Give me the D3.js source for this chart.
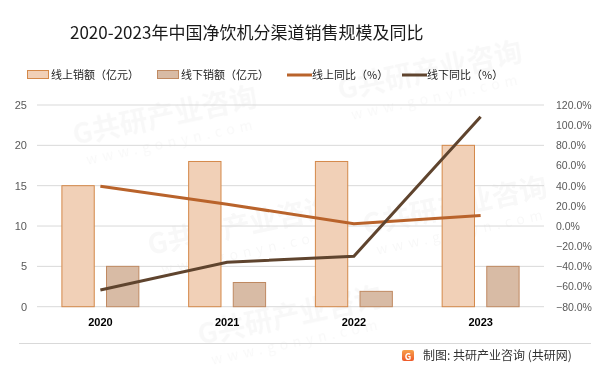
<!DOCTYPE html>
<html lang="zh">
<head>
<meta charset="UTF-8">
<title>净饮机分渠道销售规模</title>
<script src="https://d3js.org/d3.v7.min.js"></script>
<style>
    body { margin: 0; background: #fff; overflow: hidden; }
    svg { display: block; font-family: "Noto Sans CJK SC", "Noto Sans", sans-serif; }
</style>
</head>
<body>
<script>
    // 数据
    const years = ["2020", "2021", "2022", "2023"];
    const onlineSales = [15, 18, 18, 20];      // 线上销额（亿元）
    const offlineSales = [5, 3, 1.9, 5];       // 线下销额（亿元）
    const onlineYoY = [39.5, 21.5, 2.3, 10.5]; // 线上同比（%）
    const offlineYoY = [-63.4, -35.9, -29.9, 108.4]; // 线下同比（%）
    const leftTicks = [0, 5, 10, 15, 20, 25];
    const rightTicks = [-80, -60, -40, -20, 0, 20, 40, 60, 80, 100, 120];

    const width = 599, height = 373;
    const colors = {
        onlineFill: "#f1d0b7", onlineStroke: "#d4894a",
        offlineFill: "#d8bba5", offlineStroke: "#c08a62",
        onlineLine: "#b9632b", offlineLine: "#5f442e"
    };

    const svg = d3.select("body").append("svg")
        .attr("width", width)
        .attr("height", height);

    // 水印（放在画布内部，很淡）
    const wm = svg.append("g").attr("fill", "#000").attr("opacity", 0.03);
    const wmPos = [[75, 145], [340, 100], [150, 255], [365, 235], [200, 345]];
    wmPos.forEach(([x, y]) => {
        const g = wm.append("g").attr("transform", `translate(${x},${y}) rotate(-12)`);
        g.append("text").attr("font-size", 28).attr("font-weight", "bold").text("G共研产业咨询");
        g.append("text").attr("y", 22).attr("x", 8).attr("font-size", 14).attr("letter-spacing", 5).text("www.gonyn.com");
    });

    // 比例尺
    const x = d3.scaleBand().domain(years).range([37, 544]);
    const sub = d3.scaleBand().domain(["online", "offline"]).range([0, x.bandwidth()])
        .paddingInner(0.275).paddingOuter(0.558);
    const yL = d3.scaleLinear().domain([0, 25]).range([306.7, 105]);
    const yR = d3.scaleLinear().domain([-80, 120]).range([306.7, 105]);

    // 网格线
    svg.append("g").selectAll("line")
        .data(leftTicks)
        .join("line")
        .attr("x1", 37).attr("x2", 544)
        .attr("y1", d => yL(d)).attr("y2", d => yL(d))
        .attr("stroke", "#d9d9d9").attr("stroke-width", 1);

    // 左轴
    const axisL = svg.append("g")
        .attr("transform", "translate(27,0)")
        .call(d3.axisLeft(yL).tickValues(leftTicks).tickSize(0).tickPadding(0));
    axisL.select(".domain").remove();
    axisL.selectAll("text").attr("font-size", 11).attr("fill", "#595959")
        .attr("font-family", "'Liberation Sans', sans-serif");

    // 右轴
    const axisR = svg.append("g")
        .attr("transform", "translate(556,0)")
        .call(d3.axisRight(yR).tickValues(rightTicks).tickSize(0).tickPadding(0)
            .tickFormat(d => d3.format(".1f")(d) + "%"));
    axisR.select(".domain").remove();
    axisR.selectAll("text").attr("font-size", 10.5).attr("fill", "#595959")
        .attr("font-family", "'Liberation Sans', sans-serif");

    // X轴标签
    const axisX = svg.append("g")
        .attr("transform", "translate(0,318)")
        .call(d3.axisBottom(x).tickSize(0).tickPadding(0));
    axisX.select(".domain").remove();
    axisX.selectAll("text").attr("font-size", 11).attr("font-weight", "bold").attr("fill", "#000")
        .attr("font-family", "'Liberation Sans', sans-serif");

    // 柱子
    const bars = svg.append("g");
    bars.selectAll(".on")
        .data(years)
        .join("rect")
        .attr("x", (d) => x(d) + sub("online"))
        .attr("width", sub.bandwidth())
        .attr("y", (d, i) => yL(onlineSales[i]))
        .attr("height", (d, i) => yL(0) - yL(onlineSales[i]))
        .attr("fill", colors.onlineFill)
        .attr("stroke", colors.onlineStroke);
    bars.selectAll(".off")
        .data(years)
        .join("rect")
        .attr("x", (d) => x(d) + sub("offline"))
        .attr("width", sub.bandwidth())
        .attr("y", (d, i) => yL(offlineSales[i]))
        .attr("height", (d, i) => yL(0) - yL(offlineSales[i]))
        .attr("fill", colors.offlineFill)
        .attr("stroke", colors.offlineStroke);

    // 折线
    const line = d3.line()
        .x(d => x(d.year) + x.bandwidth() / 2)
        .y(d => yR(d.v));
    svg.append("path")
        .datum(years.map((year, i) => ({ year, v: onlineYoY[i] })))
        .attr("d", line)
        .attr("fill", "none").attr("stroke", colors.onlineLine).attr("stroke-width", 3);
    svg.append("path")
        .datum(years.map((year, i) => ({ year, v: offlineYoY[i] })))
        .attr("d", line)
        .attr("fill", "none").attr("stroke", colors.offlineLine).attr("stroke-width", 3);

    // 标题
    svg.append("text")
        .attr("x", 70).attr("y", 39)
        .attr("font-size", 17).attr("fill", "#1a1a1a")
        .text("2020-2023年中国净饮机分渠道销售规模及同比");

    // 图例
    const legend = svg.append("g").attr("font-size", 11).attr("fill", "#222");
    const legendItems = [
        { x: 27, type: "rect", fill: colors.onlineFill, stroke: colors.onlineStroke, label: "线上销额（亿元）" },
        { x: 157, type: "rect", fill: colors.offlineFill, stroke: colors.offlineStroke, label: "线下销额（亿元）" },
        { x: 287, type: "line", stroke: colors.onlineLine, label: "线上同比（%）" },
        { x: 402, type: "line", stroke: colors.offlineLine, label: "线下同比（%）" }
    ];
    legendItems.forEach(it => {
        if (it.type === "rect") {
            legend.append("rect").attr("x", it.x + 0.5).attr("y", 70.5).attr("width", 21).attr("height", 8)
                .attr("fill", it.fill).attr("stroke", it.stroke);
            legend.append("text").attr("x", it.x + 24).attr("y", 79).text(it.label);
        } else {
            legend.append("line").attr("x1", it.x).attr("x2", it.x + 25).attr("y1", 75).attr("y2", 75)
                .attr("stroke", it.stroke).attr("stroke-width", 3);
            legend.append("text").attr("x", it.x + 25).attr("y", 79).text(it.label);
        }
    });

    // 底部
    svg.append("line").attr("x1", 19).attr("x2", 591).attr("y1", 343.5).attr("y2", 343.5)
        .attr("stroke", "#d9d9d9");
    const grad = svg.append("defs").append("linearGradient").attr("id", "logo")
        .attr("x1", 0).attr("y1", 0).attr("x2", 0).attr("y2", 1);
    grad.append("stop").attr("offset", 0).attr("stop-color", "#f7a04a");
    grad.append("stop").attr("offset", 1).attr("stop-color", "#ee5a2a");
    svg.append("rect").attr("x", 402).attr("y", 350).attr("width", 12).attr("height", 11).attr("rx", 2)
        .attr("fill", "url(#logo)");
    svg.append("text").attr("x", 408).attr("y", 359.5).attr("text-anchor", "middle")
        .attr("font-size", 9).attr("font-weight", "bold").attr("fill", "#fff").text("G");
    svg.append("text").attr("x", 423).attr("y", 360)
        .attr("font-size", 12).attr("fill", "#333")
        .text("制图: 共研产业咨询 (共研网)");
</script>
</body>
</html>
